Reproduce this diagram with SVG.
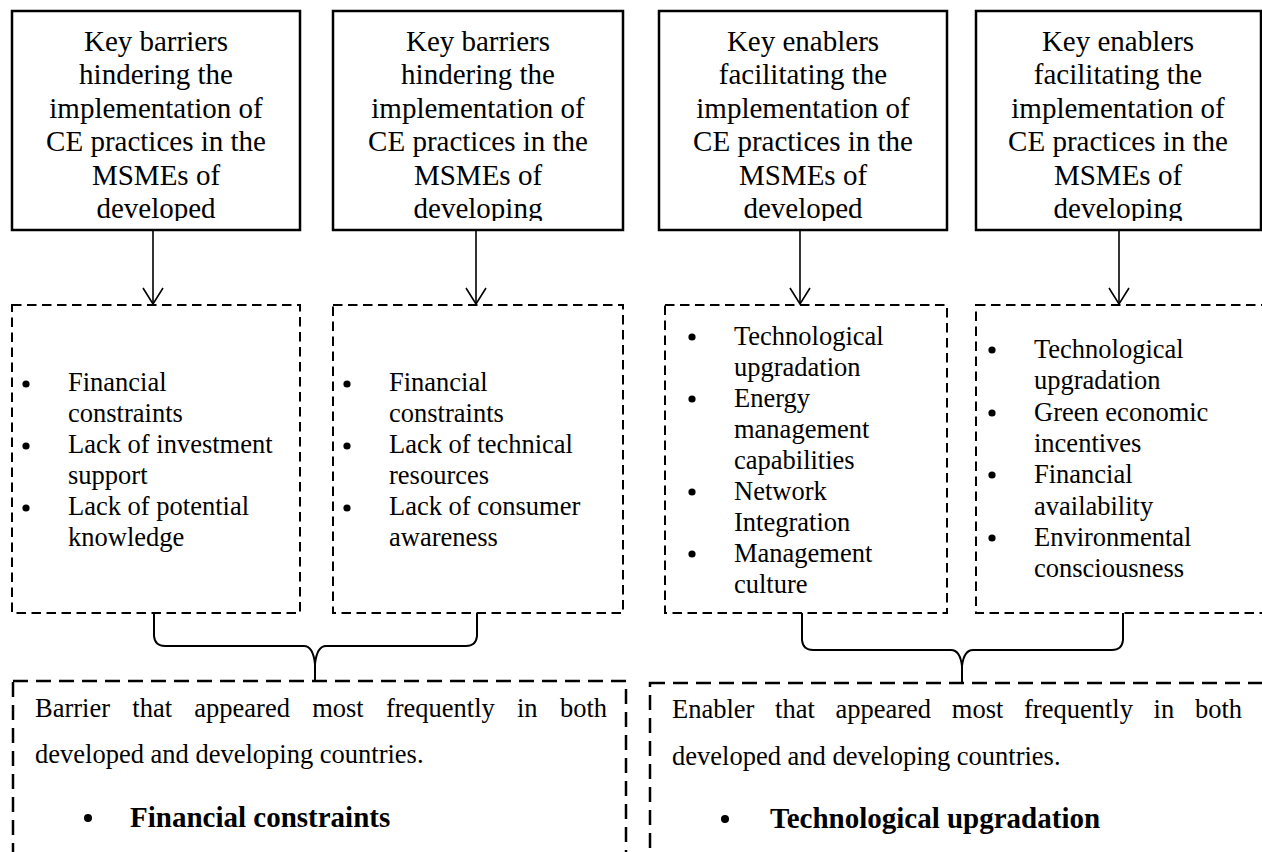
<svg xmlns="http://www.w3.org/2000/svg" width="1262" height="852" viewBox="0 0 1262 852">
<style>
.t{font-family:"Liberation Serif","Times New Roman",serif;fill:#000}
.title{font-size:29px;text-anchor:middle}
.li{font-size:26.5px}
.b{font-size:29px;font-weight:bold}
.solid{fill:#fff;stroke:#000;stroke-width:2.5}
.dash{fill:none;stroke:#000;stroke-width:2;stroke-dasharray:9.5 5.5}
.dash2{fill:none;stroke:#000;stroke-width:2.5;stroke-dasharray:15 8}
.conn{fill:none;stroke:#000;stroke-width:1.6}
.brace{fill:none;stroke:#000;stroke-width:2}
</style>
<defs>
<marker id="arr" markerWidth="24" markerHeight="20" viewBox="-12 -18 24 20" refX="0" refY="0" orient="0" markerUnits="userSpaceOnUse" overflow="visible">
<path d="M-10,-16 L0,0 L10,-16" fill="none" stroke="#000" stroke-width="1.6"/>
</marker>
<clipPath id="c1"><rect x="13" y="12" width="286" height="209"/></clipPath>
<clipPath id="c2"><rect x="334" y="12" width="288" height="209"/></clipPath>
<clipPath id="c3"><rect x="660" y="12" width="286" height="209"/></clipPath>
<clipPath id="c4"><rect x="977" y="12" width="283" height="209"/></clipPath>
</defs>
<rect width="1262" height="852" fill="#fff"/>

<g id="top1">
<rect class="solid" x="12" y="11" width="288" height="219"/>
<text class="t title" clip-path="url(#c1)"><tspan x="156" y="51">Key barriers</tspan><tspan x="156" y="84.4">hindering the</tspan><tspan x="156" y="117.8">implementation of</tspan><tspan x="156" y="151.2">CE practices in the</tspan><tspan x="156" y="184.6">MSMEs of</tspan><tspan x="156" y="218">developed</tspan></text>
</g>
<g id="top2">
<rect class="solid" x="333" y="11" width="290" height="219"/>
<text class="t title" clip-path="url(#c2)"><tspan x="478" y="51">Key barriers</tspan><tspan x="478" y="84.4">hindering the</tspan><tspan x="478" y="117.8">implementation of</tspan><tspan x="478" y="151.2">CE practices in the</tspan><tspan x="478" y="184.6">MSMEs of</tspan><tspan x="478" y="218">developing</tspan></text>
</g>
<g id="top3">
<rect class="solid" x="659" y="11" width="288" height="219"/>
<text class="t title" clip-path="url(#c3)"><tspan x="803" y="51">Key enablers</tspan><tspan x="803" y="84.4">facilitating the</tspan><tspan x="803" y="117.8">implementation of</tspan><tspan x="803" y="151.2">CE practices in the</tspan><tspan x="803" y="184.6">MSMEs of</tspan><tspan x="803" y="218">developed</tspan></text>
</g>
<g id="top4">
<rect class="solid" x="976" y="11" width="285" height="219"/>
<text class="t title" clip-path="url(#c4)"><tspan x="1118" y="51">Key enablers</tspan><tspan x="1118" y="84.4">facilitating the</tspan><tspan x="1118" y="117.8">implementation of</tspan><tspan x="1118" y="151.2">CE practices in the</tspan><tspan x="1118" y="184.6">MSMEs of</tspan><tspan x="1118" y="218">developing</tspan></text>
</g>

<g id="list1">
<rect class="dash" x="12" y="305" width="288" height="308"/>
<circle cx="26" cy="384" r="3.6"/><circle cx="26" cy="446" r="3.6"/><circle cx="26" cy="508" r="3.6"/>
<text class="t li"><tspan x="68" y="391">Financial</tspan><tspan x="68" y="422">constraints</tspan><tspan x="68" y="453">Lack of investment</tspan><tspan x="68" y="484">support</tspan><tspan x="68" y="515">Lack of potential</tspan><tspan x="68" y="546">knowledge</tspan></text>
</g>
<g id="list2">
<rect class="dash" x="333" y="305" width="290" height="308"/>
<circle cx="347" cy="384" r="3.6"/><circle cx="347" cy="446" r="3.6"/><circle cx="347" cy="508" r="3.6"/>
<text class="t li"><tspan x="389" y="391">Financial</tspan><tspan x="389" y="422">constraints</tspan><tspan x="389" y="453">Lack of technical</tspan><tspan x="389" y="484">resources</tspan><tspan x="389" y="515">Lack of consumer</tspan><tspan x="389" y="546">awareness</tspan></text>
</g>
<g id="list3">
<rect class="dash" x="665" y="305" width="282" height="308"/>
<circle cx="692" cy="337" r="3.6"/><circle cx="692" cy="399" r="3.6"/><circle cx="692" cy="492" r="3.6"/><circle cx="692" cy="554" r="3.6"/>
<text class="t li"><tspan x="734" y="345">Technological</tspan><tspan x="734" y="376">upgradation</tspan><tspan x="734" y="407">Energy</tspan><tspan x="734" y="438">management</tspan><tspan x="734" y="469">capabilities</tspan><tspan x="734" y="500">Network</tspan><tspan x="734" y="531">Integration</tspan><tspan x="734" y="562">Management</tspan><tspan x="734" y="593">culture</tspan></text>
</g>
<g id="list4">
<rect class="dash" x="976" y="305" width="300" height="308"/>
<circle cx="992" cy="350" r="3.6"/><circle cx="992" cy="413" r="3.6"/><circle cx="992" cy="475" r="3.6"/><circle cx="992" cy="538" r="3.6"/>
<text class="t li"><tspan x="1034" y="358">Technological</tspan><tspan x="1034" y="389">upgradation</tspan><tspan x="1034" y="421">Green economic</tspan><tspan x="1034" y="452">incentives</tspan><tspan x="1034" y="483">Financial</tspan><tspan x="1034" y="515">availability</tspan><tspan x="1034" y="546">Environmental</tspan><tspan x="1034" y="577">consciousness</tspan></text>
</g>

<g id="result1">
<rect class="dash2" x="13" y="681" width="613" height="200"/>
<text class="t li" y="717"><tspan x="35">Barrier</tspan> <tspan x="132.3">that</tspan> <tspan x="194.3">appeared</tspan> <tspan x="312.2">most</tspan> <tspan x="385.9">frequently</tspan> <tspan x="517">in</tspan> <tspan x="559.9">both</tspan></text>
<text class="t li" x="35" y="763">developed and developing countries.</text>
<circle cx="88" cy="818" r="4"/>
<text class="t b" x="130" y="827">Financial constraints</text>
</g>
<g id="result2">
<rect class="dash2" x="650" y="683" width="630" height="200"/>
<text class="t li" y="718"><tspan x="672">Enabler</tspan> <tspan x="775.1">that</tspan> <tspan x="835.5">appeared</tspan> <tspan x="951.8">most</tspan> <tspan x="1024">frequently</tspan> <tspan x="1153.6">in</tspan> <tspan x="1194.9">both</tspan></text>
<text class="t li" x="672" y="765">developed and developing countries.</text>
<circle cx="725" cy="819" r="4"/>
<text class="t b" x="770" y="828">Technological upgradation</text>
</g>

<g id="connectors">
<line class="conn" x1="153" y1="231" x2="153" y2="304" marker-end="url(#arr)"/>
<line class="conn" x1="476" y1="231" x2="476" y2="304" marker-end="url(#arr)"/>
<line class="conn" x1="800" y1="231" x2="800" y2="304" marker-end="url(#arr)"/>
<line class="conn" x1="1119" y1="231" x2="1119" y2="304" marker-end="url(#arr)"/>
<path class="brace" d="M154,613 L154,636 Q155,646 165,646 L304,646 Q313,646 315,664 L315,681 M315,664 Q317,646 326,646 L466,646 Q476,646 477,636 L477,613"/>
<path class="brace" d="M802,613 L802,640 Q803,650 813,650 L951,650 Q960,650 962,666 L962,683 M962,666 Q964,650 973,650 L1112,650 Q1122,650 1123,640 L1123,613"/>
</g>
</svg>
